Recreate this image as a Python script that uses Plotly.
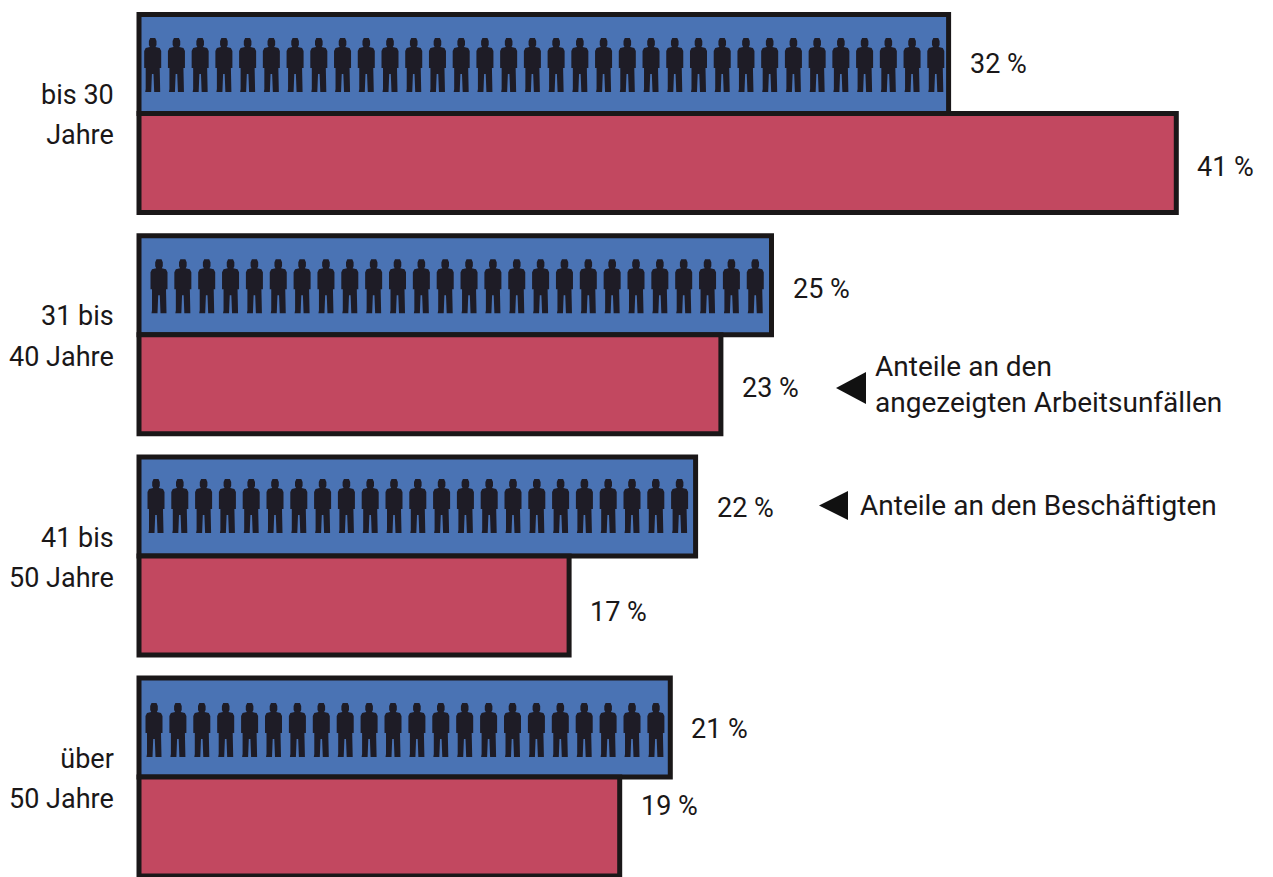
import plotly.graph_objects as go

W, H = 1273, 877
categories = ["bis 30<br>Jahre", "31 bis<br>40 Jahre", "41 bis<br>50 Jahre", "über<br>50 Jahre"]
beschaeftigte = [32, 25, 22, 21]
unfaelle = [41, 23, 17, 19]
figuren = [34, 26, 23, 22]

BLUE = "#4a73b4"
RED = "#c24860"
INK = "#1a1718"
FONT = "Roboto, sans-serif"
SIZE = 27

PX_PER_PCT = 25.3
PX_PER_CAT = 221.2
LEFT = 136
x0 = -3 / PX_PER_PCT
x1 = x0 + (W - LEFT) / PX_PER_PCT
y_top = -113.5 / PX_PER_CAT
y_bot = y_top + H / PX_PER_CAT

fig = go.Figure()
fig.add_bar(y=categories, x=beschaeftigte, orientation="h", name="Anteile an den Beschäftigten",
            marker=dict(color=BLUE, line=dict(color=INK, width=5)), cliponaxis=False)
fig.add_bar(y=categories, x=unfaelle, orientation="h", name="Anteile an den angezeigten Arbeitsunfällen",
            marker=dict(color=RED, line=dict(color=INK, width=5)), cliponaxis=False)

# person outline in pixels relative to figure centre
person = [(-2.5,-27),(2.5,-27),(3.8,-24),(3.8,-20),(2.8,-18),(7,-17),(8.5,-14),(8.5,3),(7,3),(7,24),(7.5,27),(1.5,27),(0.8,9),
          (-0.8,9),(-1.5,27),(-7.5,27),(-7,24),(-7,3),(-8.5,3),(-8.5,-14),(-7,-17),(-2.8,-18),(-3.8,-20),(-3.8,-24),(-2.5,-27)]
first_px = [13.7, 20, 17, 15]
row_dy = [-48.5, -48.5, -50, -47]
steps = [23.73, 23.85, 23.8, 23.9]
px, py = [], []
for i, n in enumerate(figuren):
    for k in range(n):
        cx = (first_px[i] + k * steps[i]) / PX_PER_PCT
        for dx, dy in person:
            px.append(cx + dx / PX_PER_PCT)
            py.append(i + (row_dy[i] + dy) / PX_PER_CAT)
        px.append(None)
        py.append(None)
fig.add_scatter(x=px, y=py, mode="lines", fill="toself", fillcolor="#1e1c26",
                line=dict(width=0), hoverinfo="skip", showlegend=False, yaxis="y2")

ann = []
def label(x, i, text, xshift, dy):
    ann.append(dict(x=x, y=i, xref="x", yref="y", text=text, showarrow=False, xanchor="left", yanchor="middle",
                    xshift=xshift, yshift=-dy, font=dict(family=FONT, size=SIZE, color=INK)))
blue_dy = [-50, -46, -48, -48]
red_dy = [53, 53, 56, 29]
for i in range(4):
    label(beschaeftigte[i], i, f"{beschaeftigte[i]} %", 19, blue_dy[i])
    label(unfaelle[i], i, f"{unfaelle[i]} %", 19, red_dy[i])

def px_x(xp):
    return (xp - LEFT) / (W - LEFT)

def note(xp, yp, text):
    ann.append(dict(x=px_x(xp), y=1 - yp / H, xref="paper", yref="paper", text=text, showarrow=False, xanchor="left",
                    yanchor="middle", align="left", font=dict(family=FONT, size=28, color=INK)))
note(873, 384, "Anteile an den<br>angezeigten Arbeitsunfällen")
note(858, 506, "Anteile an den Beschäftigten")

def tri(xl, xr, yt, yb):
    return dict(type="path", xref="paper", yref="paper", fillcolor="#111", line=dict(width=0),
                path=f"M {px_x(xl)} {1-(yt+yb)/2/H} L {px_x(xr)} {1-yt/H} L {px_x(xr)} {1-yb/H} Z")

# wider line spacing: outer tick font sets the leading, inner span sets the glyph size
tick_labels = ["<br>".join(f'<span style="font-size:{SIZE}px">{p}</span>' for p in c.split("<br>")) for c in categories]

fig.update_layout(
    width=W, height=H, margin=dict(l=LEFT, r=0, t=0, b=0), paper_bgcolor="white", plot_bgcolor="white",
    barmode="group", bargap=0.105, bargroupgap=0, showlegend=False, annotations=ann,
    shapes=[tri(836, 866, 372, 404), tri(819, 848, 491, 520)],
    xaxis=dict(range=[x0, x1], visible=False),
    yaxis=dict(range=[y_bot, y_top], type="category", categoryorder="array", categoryarray=categories,
               tickmode="array", tickvals=categories, ticktext=tick_labels,
               showgrid=False, zeroline=False, showline=False, ticks="outside", ticklen=15, tickcolor="rgba(0,0,0,0)",
               tickfont=dict(family=FONT, size=31, color=INK)),
    yaxis2=dict(range=[y_bot, y_top], overlaying="y", visible=False),
)
fig.write_html("out.html", config=dict(displayModeBar=False),
               post_script="document.body.style.margin='0';")
